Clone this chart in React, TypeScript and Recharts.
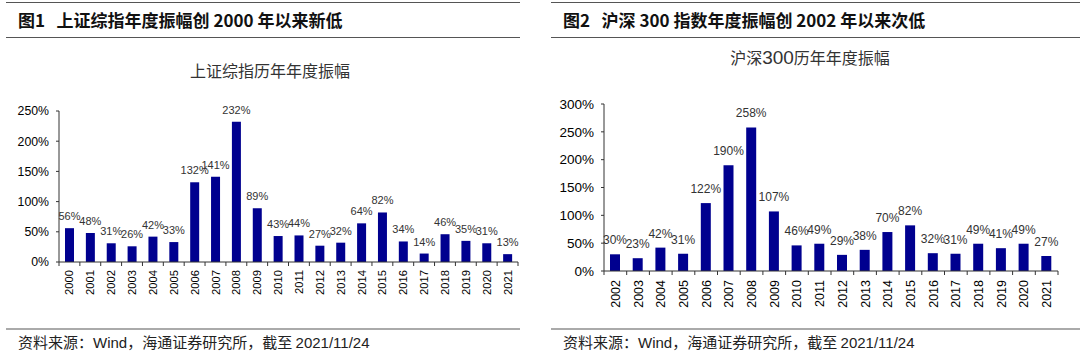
import { BarChart, Bar, XAxis, YAxis, LabelList } from "recharts";

const years1 = [
  "2000", "2001", "2002", "2003", "2004", "2005", "2006", "2007", "2008", "2009", "2010",
  "2011", "2012", "2013", "2014", "2015", "2016", "2017", "2018", "2019", "2020", "2021",
];
const amp1 = [56, 48, 31, 26, 42, 33, 132, 141, 232, 89, 43, 44, 27, 32, 64, 82, 34, 14, 46, 35, 31, 13];
const ticks1 = [0, 50, 100, 150, 200, 250];

const years2 = [
  "2002", "2003", "2004", "2005", "2006", "2007", "2008", "2009", "2010", "2011",
  "2012", "2013", "2014", "2015", "2016", "2017", "2018", "2019", "2020", "2021",
];
const amp2 = [30, 23, 42, 31, 122, 190, 258, 107, 46, 49, 29, 38, 70, 82, 32, 31, 49, 41, 49, 27];
const ticks2 = [0, 50, 100, 150, 200, 250, 300];

const BAR = "#00008f";
const AXIS = "#333";
const ARIAL = "Arial, 'Liberation Sans', sans-serif";
const CJK = "'Noto Sans CJK SC', Arial, sans-serif";

type PanelProps = {
  left: number;
  title: string;
  sub: React.ReactNode;
  subY: number;
  years: string[];
  values: number[];
  ticks: number[];
  top: number;
  yWidth: number;
  barSize: number;
  xFont: number;
  yFont: number;
  labelFont: number;
  labelOffset: number;
  lineLeft: number;
  lineRight: number;
  textLeft: number;
  xGap: number;
  bottom: number;
};

function Panel(p: PanelProps) {
  const W = 540;
  const H = 355;
  const mRight = 22;
  const plotW = W - p.yWidth - mRight;
  const half = plotW / p.years.length / 2;
  const data = p.years.map((y, i) => ({ year: y, v: p.values[i] }));

  const YearTick = (props: any) => {
    const { x, y, payload, index } = props;
    return (
      <g>
        <line x1={x - half} x2={x - half} y1={y} y2={y + 4} stroke={AXIS} />
        {index === p.years.length - 1 && (
          <line x1={x + half} x2={x + half} y1={y} y2={y + 4} stroke={AXIS} />
        )}
        <text
          transform={`translate(${x + p.xFont * 0.36},${y + p.xGap}) rotate(-90)`}
          textAnchor="end"
          fontSize={p.xFont}
          fontFamily={ARIAL}
          fill="#000"
        >
          {payload.value}
        </text>
      </g>
    );
  };

  return (
    <div style={{ position: "absolute", left: p.left, top: 0, width: W, height: H }}>
      <div style={{ position: "absolute", left: p.lineLeft - p.left, top: 2, width: p.lineRight - p.lineLeft, borderTop: "1px solid #555" }} />
      <div
        style={{
          position: "absolute", left: p.textLeft - p.left, top: 9, fontFamily: CJK, fontSize: 17,
          fontWeight: "bold", lineHeight: "22px", color: "#111", whiteSpace: "pre",
        }}
      >
        {p.title}
      </div>
      <div style={{ position: "absolute", left: p.lineLeft - p.left, top: 37, width: p.lineRight - p.lineLeft, borderTop: "1px solid #555" }} />
      <div
        style={{
          position: "absolute", left: 0, width: W, top: p.subY - 11, lineHeight: "22px", textAlign: "center",
          fontFamily: CJK, fontSize: 16, color: "#333", whiteSpace: "pre",
        }}
      >
        {p.sub}
      </div>
      <div style={{ position: "absolute", left: 0, top: 0 }}>
        <BarChart width={W} height={H} data={data} margin={{ top: p.top, right: mRight, bottom: p.bottom, left: 0 }}>
          <XAxis
            dataKey="year"
            interval={0}
            tickLine={false}
            tickSize={0}
            tickMargin={0}
            height={40}
            axisLine={{ stroke: AXIS }}
            tick={YearTick}
          />
          <YAxis
            width={p.yWidth}
            domain={[p.ticks[0], p.ticks[p.ticks.length - 1]]}
            ticks={p.ticks}
            tickFormatter={(v: number) => `${v}%`}
            tickSize={3}
            tickMargin={7}
            axisLine={{ stroke: AXIS }}
            tickLine={{ stroke: AXIS }}
            tick={{ fontSize: p.yFont, fontFamily: ARIAL, fill: "#000" }}
          />
          <Bar dataKey="v" fill={BAR} barSize={p.barSize} isAnimationActive={false}>
            <LabelList
              dataKey="v"
              position="top"
              offset={p.labelOffset}
              formatter={(v: any) => `${v}%`}
              style={{ fontSize: p.labelFont, fontFamily: ARIAL, fill: "#333" }}
            />
          </Bar>
        </BarChart>
      </div>
      <div style={{ position: "absolute", left: p.lineLeft - p.left, top: 328, width: p.lineRight - p.lineLeft, height: 2, background: "#aaa" }} />
      <div
        style={{
          position: "absolute", left: p.textLeft - p.left, top: 333, fontSize: 15, lineHeight: "18px",
          fontFamily: CJK, color: "#222", whiteSpace: "pre",
        }}
      >
        资料来源：<span style={{ fontFamily: ARIAL }}>Wind</span>，海通证券研究所，截至 <span style={{ fontFamily: ARIAL }}>2021/11/24</span>
      </div>
    </div>
  );
}

export default function App() {
  return (
    <div style={{ position: "absolute", left: 0, top: 0, width: 1080, height: 355, background: "#fff", overflow: "hidden" }}>
      <Panel
        left={0}
        title="图1   上证综指年度振幅创 2000 年以来新低"
        sub="上证综指历年年度振幅"
        subY={70}
        years={years1}
        values={amp1}
        ticks={ticks1}
        top={111}
        bottom={53}
        yWidth={59}
        barSize={9}
        xFont={11.2}
        yFont={12.3}
        labelFont={11}
        labelOffset={8}
        lineLeft={6}
        lineRight={520}
        textLeft={18}
        xGap={8}
      />
      <Panel
        left={540}
        title="图2   沪深 300 指数年度振幅创 2002 年以来次低"
        sub={<>沪深<span style={{ fontFamily: ARIAL, fontSize: 19 }}>300</span>历年年度振幅</>}
        subY={57}
        years={years2}
        values={amp2}
        ticks={ticks2}
        top={104}
        bottom={44}
        yWidth={64}
        barSize={10}
        xFont={12.5}
        yFont={13.5}
        labelFont={12}
        labelOffset={10}
        lineLeft={551}
        lineRight={1080}
        textLeft={563}
        xGap={9}
      />
    </div>
  );
}
